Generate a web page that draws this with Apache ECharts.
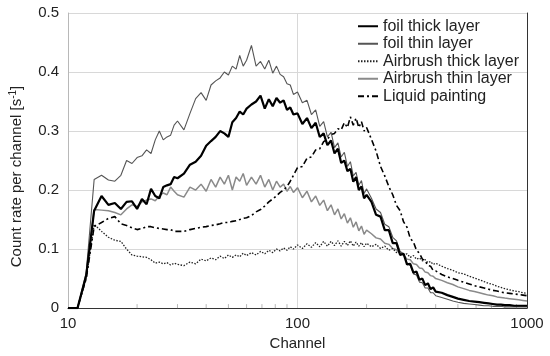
<!DOCTYPE html>
<html>
<head>
<meta charset="utf-8">
<script src="https://cdn.jsdelivr.net/npm/echarts@6/dist/echarts.min.js"></script>
<style>
  html, body { margin: 0; padding: 0; background: #fff; }
  #main { width: 550px; height: 356px; }
</style>
</head>
<body>
<div id="main"></div>
<script>
// channel numbers (x)
var channels = [
  10,11,12,13,14,15,16,17,18,19,20,21,22,23,24,25,26,27,28,29,30,
  32,34,36,38,40,42,44,46,48,50,52,54,56,58,60,
  63,66,69,72,75,78,81,84,87,90,93,96,
  100,105,110,115,120,125,130,135,140,145,150,155,160,165,170,175,180,185,190,195,200,
  210,220,230,240,250,260,270,280,290,300,310,320,330,340,350,360,370,380,390,400,
  425,450,475,500,530,560,590,620,650,680,710,740,770,800,840,880,920,960,1000
];

// count rates [1/s]
var foilThick = [
  0,0,0.055,0.165,0.19,0.175,0.178,0.168,0.18,0.181,0.168,0.185,0.176,0.202,0.19,0.186,0.205,0.208,0.21,0.222,0.22,
  0.228,0.243,0.248,0.258,0.275,0.283,0.29,0.3,0.296,0.29,0.315,0.322,0.333,0.328,0.338,
  0.345,0.35,0.36,0.338,0.354,0.342,0.356,0.348,0.352,0.336,0.34,0.328,
  0.33,0.312,0.322,0.305,0.314,0.29,0.296,0.276,0.284,0.262,0.27,0.246,0.25,0.232,0.236,0.214,0.222,0.2,0.206,0.186,0.192,
  0.18,0.158,0.155,0.132,0.132,0.11,0.11,0.09,0.092,0.074,0.075,0.06,0.062,0.048,0.05,0.039,0.042,0.032,0.035,0.028,
  0.026,0.022,0.019,0.016,0.014,0.012,0.011,0.01,0.009,0.008,0.007,0.006,0.006,0.005,0.005,0.004,0.004,0.004,0.004
];
var foilThin = [
  0,0,0.06,0.218,0.225,0.217,0.215,0.225,0.25,0.245,0.255,0.258,0.268,0.262,0.285,0.3,0.285,0.29,0.293,0.31,0.317,
  0.302,0.33,0.355,0.365,0.352,0.378,0.385,0.39,0.4,0.395,0.41,0.405,0.428,0.41,0.42,
  0.445,0.41,0.418,0.405,0.42,0.398,0.41,0.396,0.392,0.38,0.378,0.362,
  0.366,0.348,0.352,0.328,0.336,0.308,0.316,0.29,0.298,0.272,0.28,0.256,0.264,0.24,0.248,0.224,0.23,0.208,0.216,0.194,0.202,
  0.186,0.168,0.162,0.142,0.138,0.12,0.114,0.096,0.092,0.076,0.072,0.058,0.056,0.044,0.043,0.034,0.034,0.026,0.026,0.021,
  0.018,0.015,0.012,0.01,0.008,0.007,0.006,0.005,0.004,0.004,0.003,0.003,0.003,0.002,0.002,0.002,0.002,0.002,0.002
];
var airbrushThick = [
  0,0,0.05,0.142,0.13,0.12,0.115,0.113,0.1,0.09,0.088,0.087,0.086,0.082,0.076,0.078,0.075,0.077,0.073,0.076,0.074,
  0.072,0.078,0.075,0.083,0.08,0.085,0.082,0.088,0.084,0.09,0.086,0.09,0.087,0.093,0.089,
  0.094,0.09,0.096,0.092,0.098,0.094,0.1,0.097,0.102,0.098,0.104,0.1,
  0.107,0.101,0.109,0.103,0.111,0.104,0.113,0.105,0.113,0.106,0.114,0.105,0.113,0.106,0.114,0.105,0.112,0.105,0.111,0.104,0.11,
  0.104,0.108,0.101,0.105,0.098,0.101,0.094,0.096,0.09,0.092,0.086,0.089,0.083,0.085,0.08,0.082,0.077,0.079,0.074,0.076,
  0.071,0.067,0.064,0.06,0.058,0.054,0.051,0.048,0.045,0.042,0.04,0.037,0.035,0.033,0.031,0.029,0.028,0.026,0.025
];
var airbrushThin = [
  0,0,0.055,0.167,0.166,0.165,0.162,0.158,0.168,0.175,0.172,0.18,0.183,0.185,0.182,0.19,0.195,0.192,0.205,0.198,0.192,
  0.188,0.205,0.2,0.21,0.198,0.218,0.205,0.222,0.21,0.225,0.2,0.222,0.215,0.228,0.208,
  0.222,0.21,0.225,0.205,0.218,0.2,0.215,0.205,0.21,0.198,0.206,0.196,
  0.204,0.187,0.198,0.18,0.19,0.174,0.183,0.165,0.175,0.158,0.168,0.151,0.16,0.144,0.153,0.137,0.146,0.131,0.139,0.125,0.132,
  0.126,0.119,0.117,0.11,0.108,0.101,0.099,0.092,0.09,0.083,0.082,0.075,0.074,0.068,0.067,0.061,0.06,0.055,0.054,0.05,
  0.047,0.043,0.04,0.036,0.033,0.03,0.028,0.026,0.024,0.022,0.021,0.019,0.018,0.017,0.016,0.015,0.014,0.013,0.012
];
var liquidPainting = [
  0,0,0.05,0.138,0.145,0.152,0.155,0.143,0.14,0.136,0.133,0.135,0.138,0.138,0.136,0.135,0.134,0.133,0.133,0.13,0.13,
  0.13,0.133,0.135,0.137,0.138,0.14,0.141,0.143,0.145,0.145,0.147,0.148,0.15,0.152,0.153,
  0.157,0.163,0.167,0.173,0.18,0.185,0.19,0.196,0.2,0.206,0.215,0.225,
  0.238,0.24,0.254,0.256,0.268,0.27,0.282,0.286,0.294,0.296,0.304,0.302,0.314,0.306,0.324,0.31,0.322,0.306,0.316,0.3,0.306,
  0.286,0.266,0.24,0.224,0.206,0.192,0.174,0.165,0.146,0.137,0.118,0.112,0.098,0.093,0.083,0.08,0.072,0.071,0.064,0.063,
  0.057,0.053,0.05,0.047,0.044,0.041,0.038,0.036,0.034,0.032,0.03,0.029,0.027,0.026,0.025,0.024,0.023,0.022,0.021
];

var seriesNames = ['foil thick layer', 'foil thin layer', 'Airbrush thick layer', 'Airbrush thin layer', 'Liquid painting'];
var minorTicks = [20,30,40,50,60,70,80,90,200,300,400,500,600,700,800,900];

function pairs(ys) {
  return channels.map(function (c, i) { return [c, ys[i]]; });
}

var font = '"Liberation Sans", Arial, sans-serif';
var chart = echarts.init(document.getElementById('main'));

chart.setOption({
  animation: false,
  textStyle: { fontFamily: font, color: '#222' },
  grid: { left: 67, right: 23, top: 13, bottom: 43 },
  legend: {
    data: seriesNames,
    orient: 'vertical',
    left: 352,
    top: 13,
    itemWidth: 20,
    itemHeight: 10,
    itemGap: 1,
    itemStyle: { opacity: 0 },
    textStyle: { fontSize: 16, color: '#222', fontFamily: font, lineHeight: 16.5 }
  },
  xAxis: [{
    type: 'log',
    logBase: 10,
    min: 10,
    max: 1000,
    name: 'Channel',
    nameLocation: 'middle',
    nameGap: 22,
    nameTextStyle: { fontSize: 15, color: '#222' },
    axisLine: { lineStyle: { color: '#b8b8b8', width: 1 } },
    axisTick: { show: false },
    axisLabel: { fontSize: 15, color: '#222', margin: 8, formatter: function (v) { return String(v); } },
    splitLine: { show: true, lineStyle: { color: '#d8d8d8', width: 1 } }
  }, {
    type: 'log',
    logBase: 10,
    min: 10,
    max: 1000,
    position: 'top',
    axisLine: { lineStyle: { color: '#333', width: 1 } },
    axisTick: { show: false },
    axisLabel: { show: false },
    splitLine: { show: false }
  }],
  yAxis: [{
    type: 'value',
    min: 0,
    max: 0.5,
    interval: 0.1,
    name: 'Count rate per channel [s{sup|-1}]',
    nameLocation: 'middle',
    nameGap: 42,
    nameTextStyle: {
      fontSize: 15,
      color: '#222',
      padding: [0, 32, 0, 0],
      rich: { sup: { fontSize: 10, color: '#222', padding: [0, 0, 8, 0] } }
    },
    axisLine: { show: true, lineStyle: { color: '#b8b8b8', width: 1 } },
    axisTick: { show: false },
    axisLabel: { fontSize: 15, color: '#222', margin: 9 },
    splitLine: { show: true, lineStyle: { color: '#d8d8d8', width: 1 } }
  }, {
    type: 'value',
    min: 0,
    max: 0.5,
    interval: 0.1,
    position: 'right',
    axisLine: { show: true, lineStyle: { color: '#333', width: 1 } },
    axisTick: { show: false },
    axisLabel: { show: false },
    splitLine: { show: false }
  }],
  series: [
    {
      name: seriesNames[0], type: 'line', symbol: 'none', z: 5,
      lineStyle: { color: '#000', width: 2.2 }, itemStyle: { color: '#000' },
      data: pairs(foilThick)
    },
    {
      name: seriesNames[1], type: 'line', symbol: 'none', z: 4,
      lineStyle: { color: '#555', width: 1.1 }, itemStyle: { color: '#555' },
      data: pairs(foilThin)
    },
    {
      name: seriesNames[2], type: 'line', symbol: 'none', z: 3,
      lineStyle: { color: '#222', width: 1.3, type: [1.5, 1.5] }, itemStyle: { color: '#222' },
      data: pairs(airbrushThick)
    },
    {
      name: seriesNames[3], type: 'line', symbol: 'none', z: 2,
      lineStyle: { color: '#8a8a8a', width: 1.5 }, itemStyle: { color: '#8a8a8a' },
      data: pairs(airbrushThin)
    },
    {
      name: seriesNames[4], type: 'line', symbol: 'none', z: 3,
      lineStyle: { color: '#000', width: 1.6, type: [6, 3, 2, 3] }, itemStyle: { color: '#000' },
      data: pairs(liquidPainting)
    },
    {
      // minor ticks along the log axis
      type: 'custom', silent: true, z: 1,
      data: minorTicks.map(function (c) { return [c, 0]; }),
      renderItem: function (params, api) {
        var p = api.coord([api.value(0), api.value(1)]);
        return {
          type: 'line',
          shape: { x1: p[0], y1: p[1], x2: p[0], y2: p[1] - 4 },
          style: { stroke: '#b8b8b8', lineWidth: 1 }
        };
      }
    }
  ]
});
</script>
</body>
</html>
